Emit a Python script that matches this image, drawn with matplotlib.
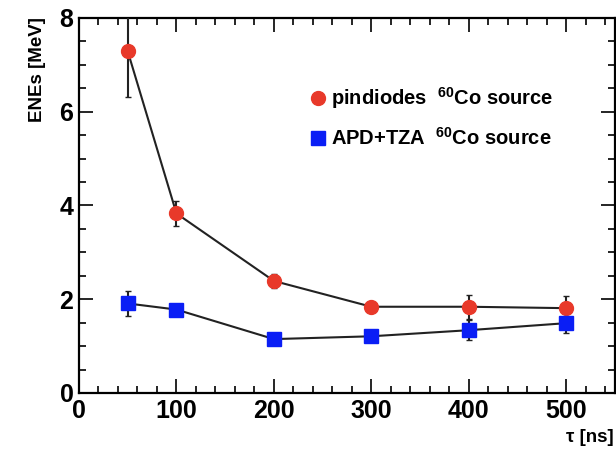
import numpy as np
import matplotlib
matplotlib.use('Agg')
import matplotlib.pyplot as plt
from matplotlib.ticker import MultipleLocator

# ---- data
tau = [50, 100, 200, 300, 400, 500]
pin_ene = [7.29, 3.83, 2.39, 1.84, 1.84, 1.81]
pin_err = [0.97, 0.27, 0.15, 0.0, 0.26, 0.27]
apd_ene = [1.91, 1.78, 1.15, 1.21, 1.34, 1.49]
apd_err = [0.26, 0.0, 0.0, 0.0, 0.21, 0.22]

leg_labels = [r'pindiodes  $^{\mathbf{60}}$Co source', r'APD+TZA  $^{\mathbf{60}}$Co source']
leg_pos = [(245, 6.3), (245, 5.45)]   # data coords of the legend markers

plt.rcParams['font.family'] = ['Liberation Sans', 'DejaVu Sans']
plt.rcParams['font.weight'] = 'bold'
plt.rcParams['mathtext.fontset'] = 'custom'
plt.rcParams['mathtext.bf'] = 'Liberation Sans:bold'
plt.rcParams['mathtext.rm'] = 'Liberation Sans:bold'

fig = plt.figure(figsize=(6.16, 4.5), dpi=100)
ax = fig.add_axes([79/616, 1 - 393/450, (615-79)/616, (393-18)/450])

ax.errorbar(tau, pin_ene, yerr=pin_err, color='#222222', lw=1.5, elinewidth=1.5,
            capsize=2, marker='o', ms=10, mfc='#e8392a', mec='#e8392a', zorder=3)
ax.errorbar(tau, apd_ene, yerr=apd_err, color='#222222', lw=1.5, elinewidth=1.5,
            capsize=2, marker='s', ms=10, mfc='#0a1ef5', mec='#0a1ef5', zorder=3)

ax.set_xlim(0, 550)
ax.set_ylim(0, 8)
ax.xaxis.set_major_locator(MultipleLocator(100))
ax.xaxis.set_minor_locator(MultipleLocator(20))
ax.yaxis.set_major_locator(MultipleLocator(2))
ax.yaxis.set_minor_locator(MultipleLocator(0.5))
ax.tick_params(which='both', direction='in', top=True, right=True, labelsize=18, width=1.2)
ax.tick_params(which='major', length=10, pad=4)
ax.tick_params(which='minor', length=5)
for s in ax.spines.values():
    s.set_linewidth(1.6)

# legend drawn by hand like the ROOT TLegend
ax.plot(*leg_pos[0], 'o', ms=10, color='#e8392a')
ax.plot(*leg_pos[1], 's', ms=10, color='#0a1ef5')
for (lx, ly), lab in zip(leg_pos, leg_labels):
    ax.text(lx + 14, ly, lab, fontsize=14.5, va='center', ha='left')

fig.text(38/616, 1 - 17/450, 'ENEs [MeV]', rotation=90, ha='center', va='top', fontsize=13.5)
fig.text(614/616, 1 - 437/450, 'τ [ns]', ha='right', va='center', fontsize=13.5)

fig.savefig('out.png', dpi=100)
